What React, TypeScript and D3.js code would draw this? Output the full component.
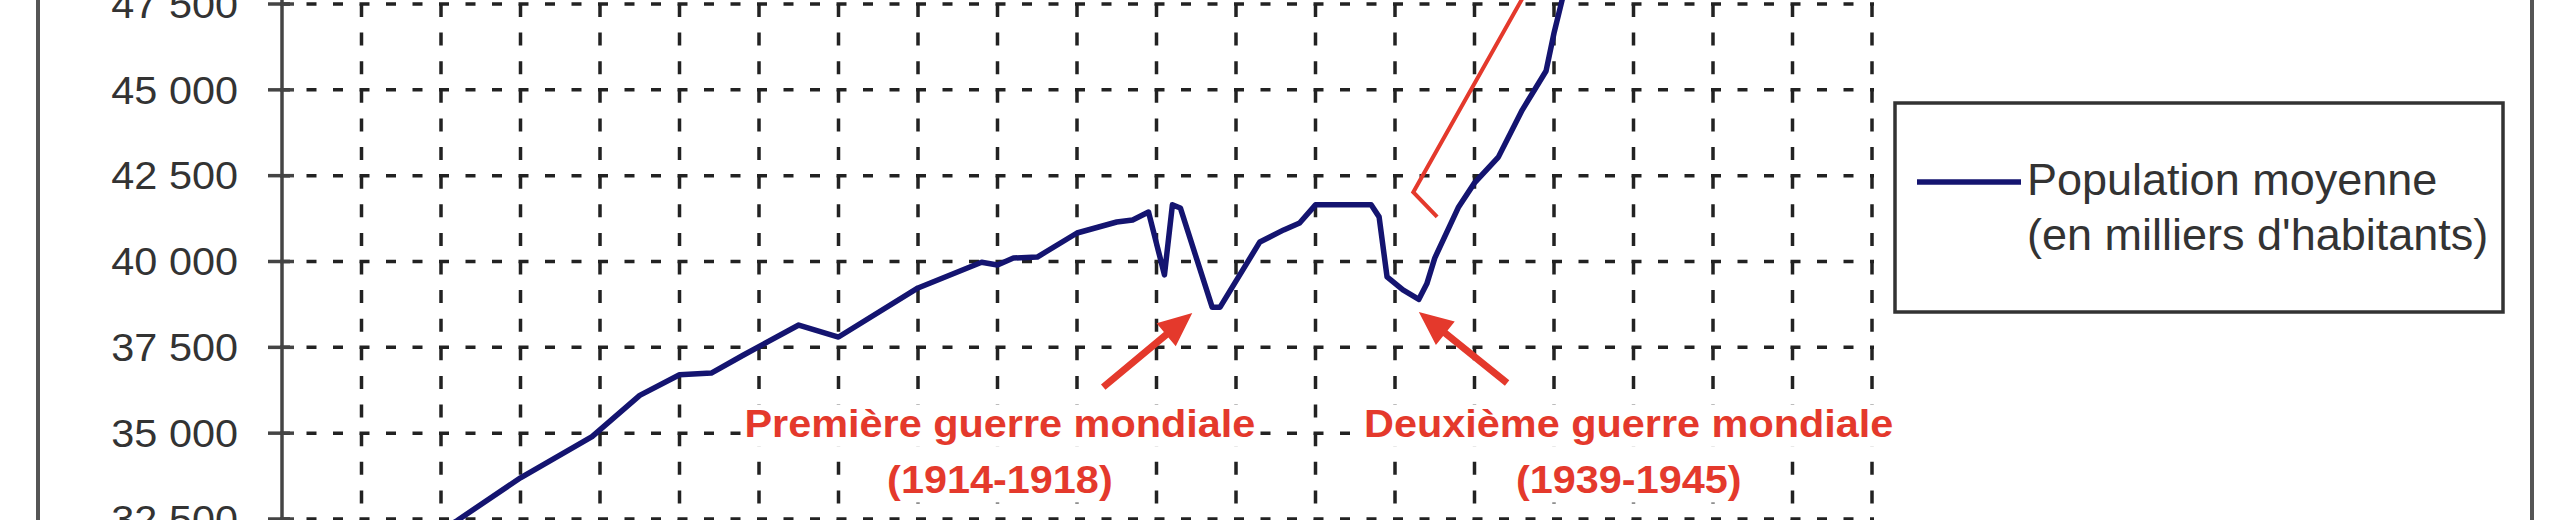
import React, { useEffect, useRef } from 'react';
import * as d3 from 'd3';

// Population moyenne (milliers d'habitants)
const years = [1803, 1815, 1825, 1833, 1842, 1848, 1853, 1857, 1861, 1868, 1873, 1883, 1891, 1893, 1895, 1898, 1903, 1908, 1910, 1912, 1914, 1915, 1916, 1920, 1921, 1926, 1929, 1931, 1933, 1940, 1941, 1942, 1944, 1946, 1947, 1948, 1951, 1953, 1956, 1959, 1962, 1963, 1964, 1966];
const population = [29300, 31000, 32450, 33700, 34900, 36100, 36700, 36750, 37270, 38150, 37800, 39230, 39980, 39900, 40100, 40130, 40830, 41150, 41210, 41440, 39610, 41650, 41560, 38670, 38670, 40570, 40920, 41120, 41650, 41650, 41300, 39550, 39170, 38900, 39350, 40100, 41590, 42290, 43040, 44410, 45550, 46650, 47600, 49300];

const yTicks = [32500, 35000, 37500, 40000, 42500, 45000, 47500];
const gridYears = d3.range(1813, 2004, 10);

const legendLines = ['Population moyenne', "(en milliers d'habitants)"];
const warTitles = ['Première guerre mondiale', 'Deuxième guerre mondiale'];
const warPeriods = ['(1914-1918)', '(1939-1945)'];
const warLabelYears = [1893.3, 1972.4];
const warLabelValue = 34900;
// flèches : [année, valeur] de la queue puis de la pointe
const arrows = [
  [[1906.3, 36340], [1917.5, 38500]],
  [[1957.1, 36460], [1946.0, 38530]],
];
const bracket = [[1959.6, 47900], [1945.3, 42020], [1948.3, 41300]];

const RED = '#e4392c';
const FONT = '"Liberation Sans", Arial, sans-serif';

const fr = d3.formatLocale({ decimal: ',', thousands: '\u00a0', grouping: [3], currency: ['', ' €'] });
const fmt = fr.format(',');

export default function App() {
  const svgRef = useRef<SVGSVGElement>(null);

  useEffect(() => {
    if (!svgRef.current) return;
    const svg = d3.select(svgRef.current);
    svg.selectAll('*').remove();

    const width = 2560;
    const height = 520;

    const x = d3.scaleLinear().domain([1803, 2003]).range([282, 1872]);
    const y = d3.scaleLinear().domain([32500, 47500]).range([519, 4]);

    // cadre extérieur
    [38, 2532].forEach(fx => {
      svg.append('line')
        .attr('x1', fx).attr('x2', fx).attr('y1', 0).attr('y2', height)
        .attr('stroke', '#555').attr('stroke-width', 4);
    });

    // quadrillage
    const hPeriod = (x(1813) - x(1803)) / 3;
    const vPeriod = (y(45000) - y(47500)) / 3;

    svg.append('g')
      .selectAll('line')
      .data(yTicks)
      .join('line')
      .attr('x1', x(1803) - 2)
      .attr('x2', x(2003) + 2)
      .attr('y1', d => y(d))
      .attr('y2', d => y(d))
      .attr('stroke', '#222')
      .attr('stroke-width', 3.5)
      .attr('stroke-dasharray', `10 ${hPeriod - 10}`);

    svg.append('g')
      .selectAll('line')
      .data(gridYears)
      .join('line')
      .attr('x1', d => x(d))
      .attr('x2', d => x(d))
      .attr('y1', y(47500) - 3 * vPeriod)
      .attr('y2', height + 10)
      .attr('stroke', '#222')
      .attr('stroke-width', 3.5)
      .attr('stroke-dasharray', `13 ${vPeriod - 13}`);

    // axe vertical
    svg.append('line')
      .attr('x1', x(1803)).attr('x2', x(1803)).attr('y1', 0).attr('y2', height)
      .attr('stroke', '#444').attr('stroke-width', 3.5);

    svg.append('g')
      .selectAll('line')
      .data(yTicks)
      .join('line')
      .attr('x1', x(1803) - 14)
      .attr('x2', x(1803) + 12)
      .attr('y1', d => y(d))
      .attr('y2', d => y(d))
      .attr('stroke', '#444')
      .attr('stroke-width', 3.5);

    svg.append('g')
      .selectAll('g')
      .data(yTicks)
      .join('g')
      .attr('transform', d => `translate(238,${y(d)}) scale(1.09,1)`)
      .append('text')
      .attr('text-anchor', 'end')
      .attr('dy', '0.36em')
      .attr('font-family', FONT)
      .attr('font-size', 38)
      .attr('fill', '#333')
      .text(d => fmt(d));

    // courbe
    const line = d3.line<number>()
      .x((_, i) => x(years[i]))
      .y(d => y(d));

    svg.append('path')
      .datum(population)
      .attr('d', line)
      .attr('fill', 'none')
      .attr('stroke', '#141470')
      .attr('stroke-width', 5.5)
      .attr('stroke-linejoin', 'round')
      .attr('stroke-linecap', 'round');

    // étiquettes des guerres
    warTitles.forEach((title, i) => {
      const cx = x(warLabelYears[i]);
      const base = y(warLabelValue);
      [title, warPeriods[i]].forEach((txt, j) => {
        const g = svg.append('g')
          .attr('transform', `translate(${cx},${base + j * 56}) scale(1.09,1)`);
        const rect = g.append('rect').attr('fill', '#fff');
        const t = g.append('text')
          .attr('text-anchor', 'middle')
          .attr('font-family', FONT)
          .attr('font-size', 38)
          .attr('font-weight', 'bold')
          .attr('fill', RED)
          .text(txt);
        const bb = (t.node() as SVGTextElement).getBBox();
        rect.attr('x', bb.x - 3).attr('y', -32).attr('width', bb.width + 6).attr('height', 42);
      });
    });

    // flèches
    const arrowPoints = (x0: number, y0: number, x1: number, y1: number) => {
      const dx = x1 - x0;
      const dy = y1 - y0;
      const len = Math.hypot(dx, dy);
      const ux = dx / len;
      const uy = dy / len;
      const px = -uy;
      const py = ux;
      const head = 34;
      const hw = 15;
      const sw = 3.5;
      const bx = x1 - ux * head;
      const by = y1 - uy * head;
      return [
        [x0 + px * sw, y0 + py * sw],
        [bx + px * sw, by + py * sw],
        [bx + px * hw, by + py * hw],
        [x1, y1],
        [bx - px * hw, by - py * hw],
        [bx - px * sw, by - py * sw],
        [x0 - px * sw, y0 - py * sw],
      ].map(p => p.join(',')).join(' ');
    };

    svg.append('g')
      .selectAll('polygon')
      .data(arrows)
      .join('polygon')
      .attr('points', d => arrowPoints(x(d[0][0]), y(d[0][1]), x(d[1][0]), y(d[1][1])))
      .attr('fill', RED);

    svg.append('path')
      .datum(bracket)
      .attr('d', d3.line<number[]>().x(d => x(d[0])).y(d => y(d[1])))
      .attr('fill', 'none')
      .attr('stroke', RED)
      .attr('stroke-width', 4);

    // légende
    const legend = svg.append('g');
    legend.append('rect')
      .attr('x', 1895).attr('y', 103).attr('width', 608).attr('height', 209)
      .attr('fill', '#fff').attr('stroke', '#333').attr('stroke-width', 3.5);
    legend.append('line')
      .attr('x1', 1917).attr('x2', 2021).attr('y1', 182).attr('y2', 182)
      .attr('stroke', '#141470').attr('stroke-width', 5.5);
    legend.selectAll('text.lg')
      .data(legendLines)
      .join('text')
      .attr('class', 'lg')
      .attr('x', 2027)
      .attr('y', (_, i) => 195 + i * 55)
      .attr('font-family', FONT)
      .attr('font-size', 45)
      .attr('fill', '#333')
      .text(d => d);

    svg.attr('width', width).attr('height', height);
  }, []);

  return (
    <div>
      <style>{'body{margin:0;background:#fff}svg{display:block;overflow:hidden}'}</style>
      <svg ref={svgRef} width={2560} height={520}></svg>
    </div>
  );
}
